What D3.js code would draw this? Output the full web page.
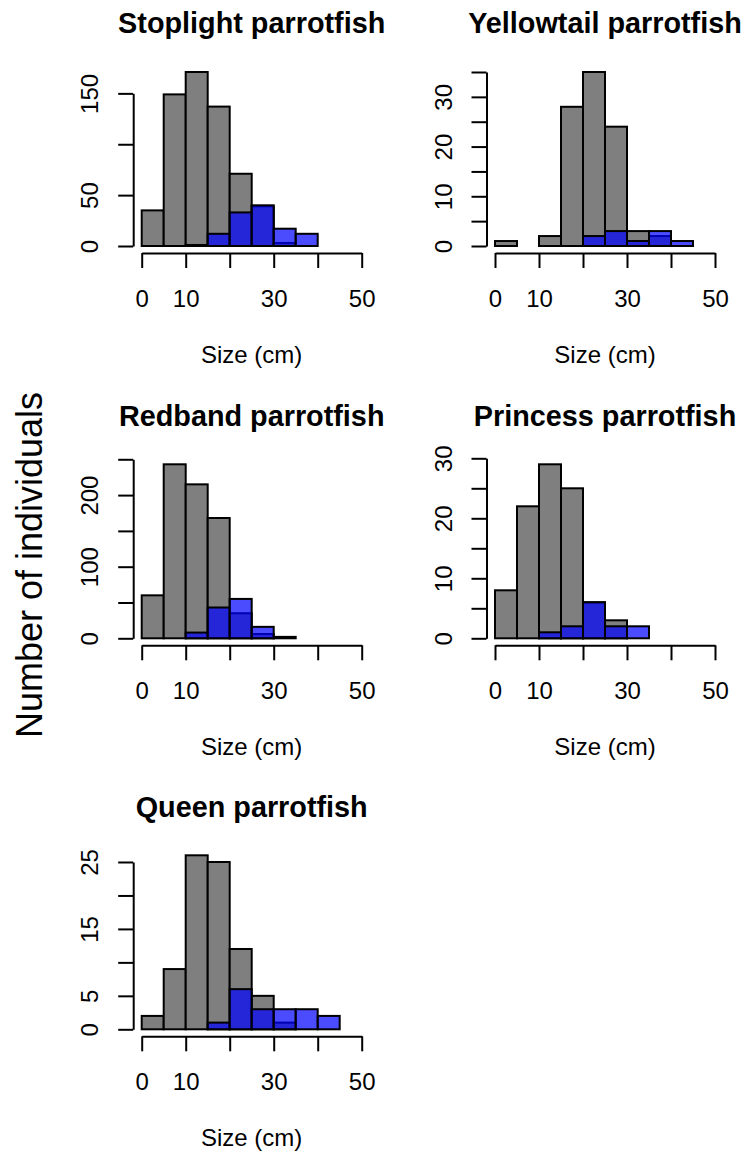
<!DOCTYPE html>
<head>
  <meta charset="utf-8">
  <style>
    body { margin: 0; background: white; }
    svg text { font-family: "Liberation Sans", Arial, sans-serif; fill: black; }
    svg .domain, svg .tick line { stroke: black; stroke-width: 2px; }
  </style>
</head>
<body>
<script src="https://d3js.org/d3.v7.min.js"></script>
<script>
  // size classes (cm), lower edges of 5 cm bins
  var breaks = [0, 5, 10, 15, 20, 25, 30, 35, 40, 45];
  var binWidth = 5;

  var species = ["Stoplight parrotfish", "Yellowtail parrotfish", "Redband parrotfish",
                 "Princess parrotfish", "Queen parrotfish"];

  // grey histogram and blue (overlaid) histogram for each species
  var stoplightGrey  = [35, 149, 171, 137, 71, 39, 3, 0, 0, 0];
  var stoplightBlue  = [0, 0, 1, 12, 33, 40, 17, 12, 0, 0];
  var yellowtailGrey = [1, 0, 2, 28, 35, 24, 3, 2, 0, 0];
  var yellowtailBlue = [0, 0, 0, 0, 2, 3, 1, 3, 1, 0];
  var redbandGrey    = [60, 243, 215, 168, 35, 6, 2, 0, 0, 0];
  var redbandBlue    = [0, 0, 8, 43, 55, 16, 0, 0, 0, 0];
  var princessGrey   = [8, 22, 29, 25, 6, 3, 0, 0, 0, 0];
  var princessBlue   = [0, 0, 1, 2, 6, 2, 2, 0, 0, 0];
  var queenGrey      = [2, 9, 26, 25, 12, 5, 1, 0, 0, 0];
  var queenBlue      = [0, 0, 0, 1, 6, 3, 3, 3, 2, 0];

  // y ticks and which of them carry a label
  var stoplightTicks  = [0, 50, 100, 150],             stoplightLabels  = [0, 50, 150];
  var yellowtailTicks = [0, 5, 10, 15, 20, 25, 30, 35], yellowtailLabels = [0, 10, 20, 30];
  var redbandTicks    = [0, 50, 100, 150, 200, 250],   redbandLabels    = [0, 100, 200];
  var princessTicks   = [0, 5, 10, 15, 20, 25, 30],    princessLabels   = [0, 10, 20, 30];
  var queenTicks      = [0, 5, 10, 15, 20, 25],        queenLabels      = [0, 5, 15, 25];

  var xTicks = [0, 10, 20, 30, 40, 50];
  var xLabels = [0, 10, 30, 50];

  var grey = [stoplightGrey, yellowtailGrey, redbandGrey, princessGrey, queenGrey];
  var blue = [stoplightBlue, yellowtailBlue, redbandBlue, princessBlue, queenBlue];
  var yTicks = [stoplightTicks, yellowtailTicks, redbandTicks, princessTicks, queenTicks];
  var yLabels = [stoplightLabels, yellowtailLabels, redbandLabels, princessLabels, queenLabels];

  var width = 746, height = 1154;
  var colX = [141.7, 495];           // pixel of x = 0 in each column
  var rowY = [246, 638.3, 1029.3];   // pixel of count = 0 in each row
  var plotW = 220, barH = 174;
  var tick = 15;

  var svg = d3.select("body").append("svg")
      .attr("width", width)
      .attr("height", height);

  species.forEach(function (name, i) {
    var x0 = colX[i % 2], y0 = rowY[Math.floor(i / 2)];
    var g = svg.append("g");

    var ymax = d3.max(grey[i].concat(blue[i]));
    var xScale = d3.scaleLinear().domain([0, 50]).range([x0, x0 + plotW]);
    var yScale = d3.scaleLinear().domain([0, ymax]).range([y0, y0 - barH]);

    // bars
    [grey[i], blue[i]].forEach(function (counts, k) {
      g.append("g").selectAll("rect")
        .data(counts)
        .join("rect")
          .attr("x", function (d, j) { return xScale(breaks[j]); })
          .attr("width", function (d, j) { return xScale(breaks[j] + binWidth) - xScale(breaks[j]); })
          .attr("y", function (d) { return yScale(d); })
          .attr("height", function (d) { return yScale(0) - yScale(d); })
          .style("fill", k === 0 ? "#7f7f7f" : "rgba(0,0,255,0.7)")
          .style("stroke", "black")
          .style("stroke-width", "2px");
    });

    // x axis, drawn a little below zero like R
    var xAxis = d3.axisBottom(xScale)
      .tickValues(xTicks)
      .tickSize(tick)
      .tickSizeOuter(0)
      .tickFormat(function (d) { return xLabels.indexOf(d) >= 0 ? d : ""; });

    var xa = g.append("g")
        .attr("transform", "translate(0," + (y0 + 7) + ")")
        .call(xAxis);
    xa.selectAll(".tick text")
        .attr("y", 53.5)
        .attr("dy", null)
        .style("font-size", "24px");

    // y axis spans first to last tick
    var t = yTicks[i];
    var yAxisScale = d3.scaleLinear()
      .domain([t[0], t[t.length - 1]])
      .range([yScale(t[0]), yScale(t[t.length - 1])]);
    var yAxis = d3.axisLeft(yAxisScale)
      .tickValues(t)
      .tickSize(tick)
      .tickSizeOuter(0)
      .tickFormat(function (d) { return yLabels[i].indexOf(d) >= 0 ? d : ""; });

    var ya = g.append("g")
        .attr("transform", "translate(" + (x0 - 8.5) + ",0)")
        .call(yAxis);
    ya.selectAll(".tick text")
        .attr("transform", "rotate(-90)")
        .attr("x", 0)
        .attr("y", -35)
        .attr("dy", null)
        .style("text-anchor", "middle")
        .style("font-size", "24px");

    g.selectAll(".tick text").style("fill", "black");

    // titles
    g.append("text")
      .attr("x", xScale(25))
      .attr("y", y0 - 212.7)
      .text(name)
      .style("text-anchor", "middle")
      .style("font-weight", "bold")
      .style("font-size", "28.8px");

    g.append("text")
      .attr("x", xScale(25))
      .attr("y", y0 + 117)
      .text("Size (cm)")
      .style("text-anchor", "middle")
      .style("font-size", "24px");
  });

  svg.append("text")
    .attr("transform", "translate(42,565) rotate(-90)")
    .text("Number of individuals")
    .style("text-anchor", "middle")
    .style("font-size", "36px");
</script>
</body>
</html>
